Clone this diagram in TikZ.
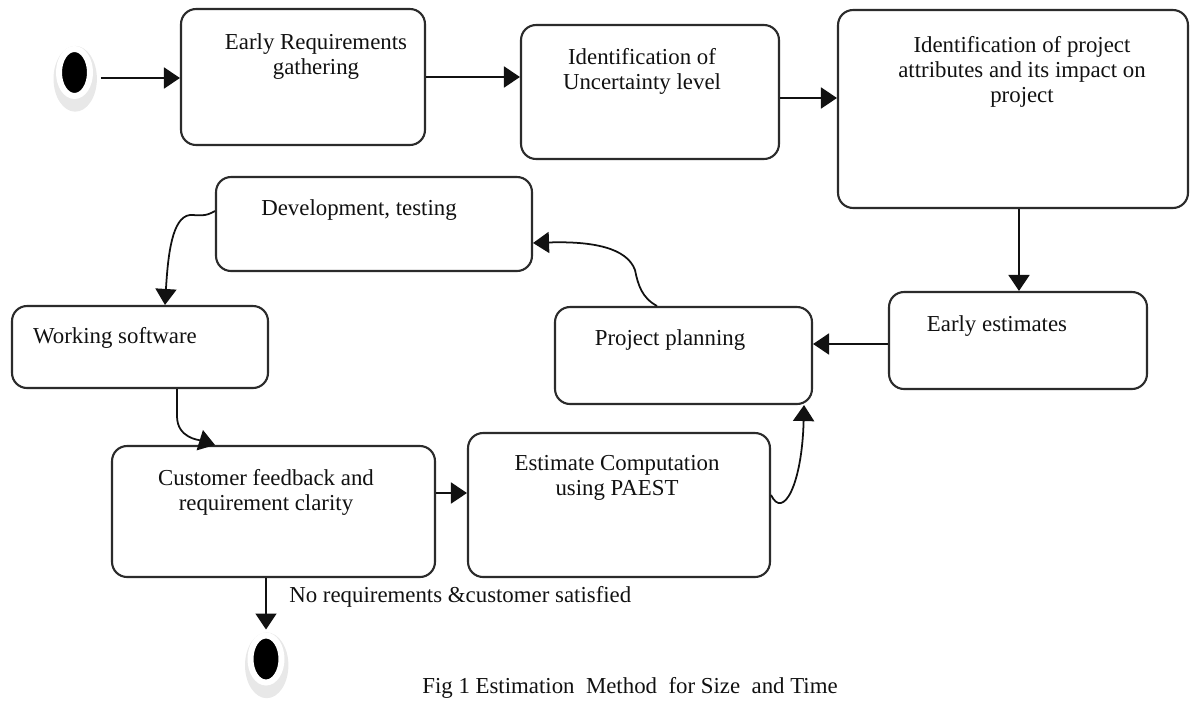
\documentclass[tikz,border=0pt]{standalone}
\usepackage{fontspec}
\setmainfont{Liberation Serif}
\usetikzlibrary{positioning,arrows.meta,shapes.geometric,shadows}
\definecolor{boxline}{HTML}{2B2B2B}
\definecolor{ink}{HTML}{111111}

\begin{document}
\begin{tikzpicture}[
  x=0.02cm, y=-0.02cm,
  font=\fontsize{13}{14.2}\selectfont,
  stepbox/.style={draw=boxline, line width=1.2pt, rounded corners=3mm, fill=white, inner sep=0pt},
  txt/.style={text=ink, align=center, inner sep=0pt},
  flow/.style={-{Triangle[length=3.2mm,width=4.2mm]}, line width=1pt, draw=ink},
  blob/.style={ellipse, fill=black, draw=white, line width=1.2mm, minimum width=0.62cm, minimum height=0.94cm, inner sep=0pt,
    drop shadow={shadow scale=1.4, shadow xshift=0.1mm, shadow yshift=-0.9mm, fill=black!9, opacity=1}}
]
  \useasboundingbox (0,0) rectangle (1190,700);

  % activity boxes
  \node[stepbox, minimum width=4.88cm, minimum height=2.72cm] (req)   at (303,77)    {};
  \node[stepbox, minimum width=5.16cm, minimum height=2.68cm] (unc)   at (650,92)    {};
  \node[stepbox, minimum width=7.00cm, minimum height=3.96cm] (attr)  at (1013,109)  {};
  \node[stepbox, minimum width=5.16cm, minimum height=1.94cm] (early) at (1018,340.5){};
  \node[stepbox, minimum width=6.32cm, minimum height=1.88cm] (dev)   at (374,224)   {};
  \node[stepbox, minimum width=5.12cm, minimum height=1.64cm] (soft)  at (140,347)   {};
  \node[stepbox, minimum width=5.14cm, minimum height=1.94cm] (plan)  at (683.5,355.5){};
  \node[stepbox, minimum width=6.46cm, minimum height=2.62cm] (cust)  at (273.5,511.5){};
  \node[stepbox, minimum width=6.04cm, minimum height=2.88cm] (comp)  at (619,505)   {};

  % box texts
  \node[txt] (reqtxt)   at (316,57)  {Early Requirements\\gathering};
  \node[txt] (unctxt)   at (642,71)  {Identification of\\Uncertainty level};
  \node[txt] (attrtxt)  at (1022,72) {Identification of project\\attributes and its impact on\\project};
  \node[txt] (earlytxt) at (997,326) {Early estimates};
  \node[txt] (devtxt)   at (359,210) {Development, testing};
  \node[txt] (softtxt)  at (115,338) {Working software};
  \node[txt] (plantxt)  at (670,340) {Project planning};
  \node[txt] (custtxt)  at (266,492) {Customer feedback and\\requirement clarity};
  \node[txt] (comptxt)  at (617,478) {Estimate Computation\\using PAEST};

  % start and end
  \node[blob] (start) at (74.5,72.5) {};
  \node[blob] (stop)  at (266,659)   {};

  % connectors
  \draw[flow, shorten <=1.6mm] ([yshift=-0.11cm]start.east) -- ([yshift=-0.11cm]start.east -| req.west);
  \draw[flow] (req.east) -- (req.east -| unc.west);
  \draw[flow] ([yshift=-0.12cm]unc.east) -- ([yshift=-0.12cm]unc.east -| attr.west);
  \draw[flow] ([xshift=0.12cm]attr.south) -- ([xshift=0.12cm]attr.south |- early.north);
  \draw[flow] ([yshift=-0.07cm]early.west) -- ([yshift=-0.07cm]early.west -| plan.east);
  \draw[flow] ([xshift=-0.53cm]plan.north) .. controls +(-15,-8) and +(3,15) .. (635,270)
    .. controls +(-8,-22) and +(60,-2) .. ([yshift=-0.38cm]dev.east);
  \draw[flow] ([yshift=0.26cm]dev.west) .. controls +(-10,6) and +(10,0) .. (190,215)
    .. controls +(-18,2) and +(3,-50) .. ([xshift=0.5cm]soft.north);
  \draw[flow] ([xshift=0.74cm]soft.south) -- ++(0,27) .. controls +(0,22) and +(-16,-5) .. ([xshift=-1.17cm]cust.north);
  \draw[flow] ([yshift=0.37cm]cust.east) -- ([yshift=0.37cm]cust.east -| comp.west);
  \draw[flow] ([yshift=0.2cm]comp.east) .. controls +(12,25) and +(-2,80) .. ([xshift=-0.18cm]plan.south east);
  \draw[flow] (cust.south -| stop.north) -- ([yshift=0.06cm]stop.north);

  \node[txt, anchor=west] (stoplbl) at (289,597) {No requirements \&customer satisfied};
  \node[txt, anchor=base] (caption) at (630,693) {Fig 1 Estimation\ \ Method\ \ for Size\ \ and Time};
\end{tikzpicture}
\end{document}
